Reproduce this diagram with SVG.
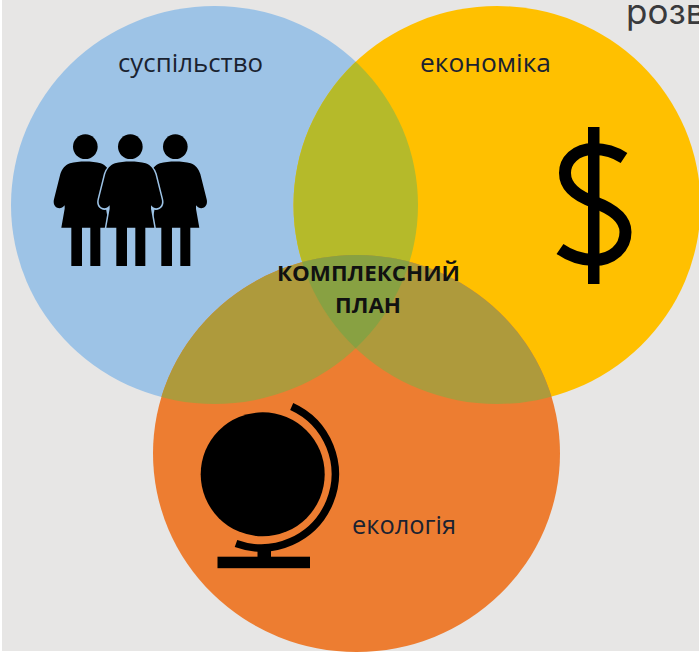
<svg xmlns="http://www.w3.org/2000/svg" width="699" height="653" viewBox="0 0 699 653">
  <style>
    .lbl{font-family:"Open Sans","Noto Sans",sans-serif;font-size:25px;fill:#1a2230}
    .ctr{font-family:"Open Sans","Noto Sans",sans-serif;font-size:22px;font-weight:700;fill:#111;text-anchor:middle}
    .ink{fill:#000}
    .line{fill:none;stroke:#000}
  </style>
  <defs>
    <ellipse id="cb" cx="214.500" cy="205" rx="203.500" ry="199"/>
    <ellipse id="cy" cx="497" cy="205" rx="203.500" ry="199"/>
    <ellipse id="co" cx="356.500" cy="453.500" rx="203.500" ry="198.500"/>
    <clipPath id="clipB"><use href="#cb"/></clipPath>
    <clipPath id="clipY"><use href="#cy"/></clipPath>
    <clipPath id="clipBY" clip-path="url(#clipB)"><use href="#cy"/></clipPath>
    <path id="woman" d="M-46 160C-20 153 20 153 46 160C62 166 70 178 75 192L94 268C100 292 76 304 62 286L62 296L72 353H45V468H15V353H-10V468H-42V353H-72L-62 296L-62 286C-76 304 -100 292 -94 268L-75 192C-70 178 -62 166 -46 160Z"/>
  </defs>
  <rect x="0" y="0" width="699" height="653" fill="#ffffff"/>
  <rect x="2" y="0" width="697" height="651" fill="#E7E6E5"/>

  <g id="suspilstvo">
    <use href="#cb" fill="#9DC3E6"/>
    <text class="lbl" x="118" y="72" textLength="145" lengthAdjust="spacingAndGlyphs">суспільство</text>
  </g>
  <g id="ekonomika">
    <use href="#cy" fill="#FFC000"/>
    <text class="lbl" x="420" y="72" textLength="131" lengthAdjust="spacingAndGlyphs">економіка</text>
  </g>
  <g id="ekologiya">
    <use href="#co" fill="#ED7D31"/>
    <text class="lbl" x="352" y="534" textLength="104" lengthAdjust="spacingAndGlyphs">екологія</text>
  </g>
  <g id="overlaps">
    <use href="#cy" fill="#B5BA2A" clip-path="url(#clipB)"/>
    <use href="#co" fill="#AE9A3C" clip-path="url(#clipB)"/>
    <use href="#co" fill="#AE9A3C" clip-path="url(#clipY)"/>
    <use href="#co" fill="#88A142" clip-path="url(#clipBY)"/>
  </g>

  <g id="people" transform="translate(30 110) scale(0.3333)">
    <g class="ink">
      <circle cx="166" cy="110" r="37"/><circle cx="301" cy="110" r="37"/><circle cx="436" cy="110" r="37"/>
      <use href="#woman" x="166"/>
      <use href="#woman" x="436"/>
      <use href="#woman" x="301" stroke="#9DC3E6" stroke-width="9" paint-order="stroke"/>
    </g>
  </g>

  <g id="dollar">
    <rect class="ink" x="588" y="127" width="11.500" height="157"/>
    <path class="line" stroke-width="12" d="M624 158C615 152 605 149 594 149C575 149 565 161 565 173C565 187 577 196 594 202C613 209 625.500 218 625.500 232C625.500 248 612 260 594 260C580 260 570 256 560 249"/>
  </g>

  <g id="globe">
    <circle class="ink" cx="262.700" cy="474.300" r="62"/>
    <path class="line" stroke-width="7.500" d="M291.700 406.500A74 74 0 0 1 236 543.500"/>
    <rect class="ink" x="257.500" y="546" width="13.500" height="12"/>
    <rect class="ink" x="217.500" y="556.700" width="92.500" height="11.500"/>
  </g>

  <g id="kompleksnyi-plan">
    <text class="ctr" x="368.500" y="281" textLength="183" lengthAdjust="spacingAndGlyphs">КОМПЛЕКСНИЙ</text>
    <text class="ctr" x="368" y="313" textLength="66" lengthAdjust="spacingAndGlyphs">ПЛАН</text>
  </g>

  <text x="626" y="24" font-family="Inter,'Noto Sans',sans-serif" font-size="35" fill="#3a3a3c">розв</text>
</svg>
